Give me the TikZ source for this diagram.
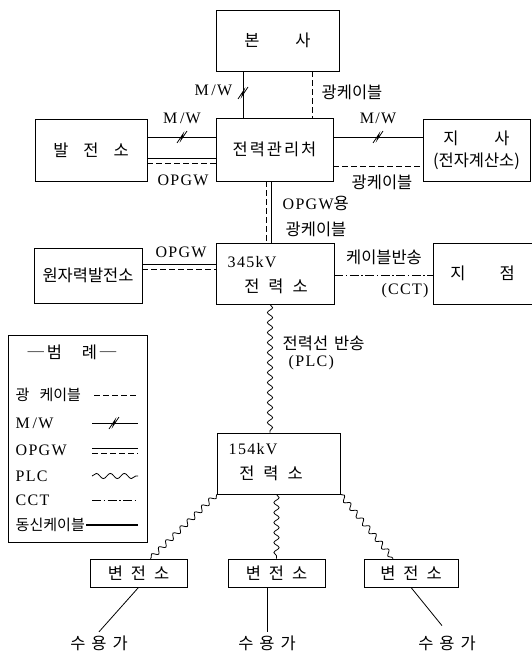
\documentclass[tikz,border=0pt]{standalone}
\usepackage{fontspec}
\setmainfont{Liberation Serif}[LetterSpace=8]
\newfontfamily\kr{Noto Sans CJK KR}[Scale=1.03]
\newfontfamily\krn{Noto Sans CJK KR}[Scale=0.94]
\usetikzlibrary{decorations.pathmorphing}

\tikzset{
  box/.style={draw, line width=0.9pt, inner sep=0pt},
  kwang/.style={dash pattern=on 6pt off 3pt},
  plc/.style={decorate, decoration={snake, amplitude=2.6pt, segment length=10pt}},
  cct/.style={dash pattern=on 9pt off 2.5pt on 1.5pt off 2.5pt},
  mwmark/.pic={\draw (-5,6) -- (1,-3) -- (-1,3) -- (5,-6);},
}

\begin{document}
\begin{tikzpicture}[x=1pt, y=-1pt, font=\fontsize{16}{18}\selectfont, line width=0.8pt]
\useasboundingbox (0,0) rectangle (532,658);

\node[box, minimum width=123pt, minimum height=61pt] (bonsa) at (277.5,40.5) {\kr 본\hspace{36pt}사};
\node[box, minimum width=112pt, minimum height=62pt] (baljeon) at (91,150) {\kr 발\hspace{15pt}전\hspace{15pt}소};
\node[box, minimum width=117pt, minimum height=63pt] (gwanri) at (274.5,149.5) {\kr 전\hspace{2pt}력\hspace{2pt}관\hspace{2pt}리\hspace{2pt}처};
\node[box, minimum width=107pt, minimum height=62pt, align=center] (jisa) at (476.5,150) {\kr 지\hspace{36pt}사\\[4pt]\kr (전자계산소)};
\node[box, minimum width=108pt, minimum height=55pt] (wonja) at (88,275.5) {\kr 원자력발전소};
\node[box, minimum width=118pt, minimum height=61pt] (jeon345) at (275,273.5) {};
\node[anchor=west] (kv345) at (224,262) {345kV};
\node (name345) at (276,286) {\kr 전\hspace{9pt}력\hspace{9pt}소};
\node[box, minimum width=99pt, minimum height=61pt] (jijeom) at (482.5,273.5) {\kr 지\hspace{34pt}점};
\node[box, minimum width=123pt, minimum height=61pt] (jeon154) at (278.5,463.5) {};
\node[anchor=west] (kv154) at (225,449) {154kV};
\node (name154) at (271,473) {\kr 전\hspace{9pt}력\hspace{9pt}소};
\node[box, minimum width=97pt, minimum height=28pt] (byeon1) at (138.5,573) {\kr 변\hspace{8pt}전\hspace{8pt}소};
\node[box, minimum width=97pt, minimum height=28pt] (byeon2) at (276.5,573) {\kr 변\hspace{8pt}전\hspace{8pt}소};
\node[box, minimum width=94pt, minimum height=28pt] (byeon3) at (411,573) {\kr 변\hspace{8pt}전\hspace{8pt}소};
\node (su1) at (99,643) {\kr 수\hspace{6pt}용\hspace{6pt}가};
\node (su2) at (267,643) {\kr 수\hspace{6pt}용\hspace{6pt}가};
\node (su3) at (447,643) {\kr 수\hspace{6pt}용\hspace{6pt}가};

% bonsa - gwanri
\draw (bonsa.south -| 243,0) -- (gwanri.north -| 243,0);
\pic at (243,93) {mwmark};
\node[anchor=east] (mwlabel1) at (236,90) {M\,/W};
\draw[kwang] (bonsa.south -| 312,0) -- (gwanri.north -| 312,0);
\node[anchor=west] (klabel1) at (318,92) {\kr 광케이블};

% baljeon - gwanri
\draw (baljeon.east |- 0,137) -- (gwanri.west |- 0,137);
\pic at (182,137) {mwmark};
\node (mwlabel2) at (182,118) {M\,/W};
\draw (baljeon.east |- 0,158) -- (gwanri.west |- 0,158);
\draw[kwang] (baljeon.east |- 0,163) -- (gwanri.west |- 0,163);
\node (oplabel1) at (183,180) {OPGW};

% gwanri - jisa
\draw (gwanri.east |- 0,137) -- (jisa.west |- 0,137);
\pic at (378,137) {mwmark};
\node (mwlabel3) at (378,118) {M/W};
\draw[kwang] (gwanri.east |- 0,166) -- (jisa.west |- 0,166);
\node (klabel2) at (382,182) {\kr 광케이블};

% gwanri - jeon345
\draw[kwang] (gwanri.south -| 266,0) -- (jeon345.north -| 266,0);
\draw (gwanri.south -| 271,0) -- (jeon345.north -| 271,0);
\node[anchor=west] (oplabel2) at (279,203) {OPGW{\kr 용}};
\node[anchor=west] (klabel3) at (282,229) {\kr 광케이블};

% wonja - jeon345
\draw (wonja.east |- 0,264) -- (jeon345.west |- 0,264);
\draw[kwang] (wonja.east |- 0,269) -- (jeon345.west |- 0,269);
\node (oplabel3) at (181,252) {OPGW};

% jeon345 - jijeom
\draw[cct] (jeon345.east |- 0,275) -- (jijeom.west |- 0,275);
\node (cctlabel1) at (384,257) {\kr 케이블반송};
\node (cctlabel2) at (405,291) {(CCT)};

% jeon345 - jeon154
\draw[plc] (jeon345.south -| 270,0) -- (jeon154.north -| 270,0);
\node[anchor=west] (plclabel1) at (279,343) {\kr 전력선\hspace{6pt}반송};
\node[anchor=west] (plclabel2) at (285,363) {(PLC)};

% jeon154 - byeon
\draw[plc] (jeon154.south west) -- ([xshift=12pt]byeon1.north);
\draw[plc] (byeon2.north |- jeon154.south) -- (byeon2.north);
\draw[plc] (jeon154.south east) -- ([xshift=-18pt]byeon3.north);

% byeon - su
\draw (byeon1.south) -- (su1.north);
\draw (su2.north |- byeon2.south) -- (su2.north);
\draw[shorten >=8pt] (byeon3.south) -- (su3.north);

% legend
\node[box, minimum width=139pt, minimum height=207pt] (legend) at (77.5,438.5) {};
\node (legtitle) at (72,352) {\kr ─\,범\hspace{20pt}례\,─};
\node[anchor=west] (leg1) at (12,395) {\krn 광\hspace{10pt}케이블};
\draw[kwang] (94,395) -- (138,395);
\node[anchor=west] (leg2) at (12,423) {M\,/W};
\draw (92,423) -- (138,423);
\pic at (114,423) {mwmark};
\node[anchor=west] (leg3) at (12,450) {OPGW};
\draw (92,448) -- (138,448);
\draw[kwang] (92,453) -- (138,453);
\node[anchor=west] (leg4) at (12,476) {PLC};
\draw[plc, decoration={segment length=14pt}] (92,476) -- (138,476);
\node[anchor=west] (leg5) at (12,500) {CCT};
\draw[cct] (92,500) -- (138,500);
\node[anchor=west] (leg6) at (12,525) {\krn 동신케이블};
\draw[line width=2pt] (86,525) -- (138,525);
\end{tikzpicture}
\end{document}
